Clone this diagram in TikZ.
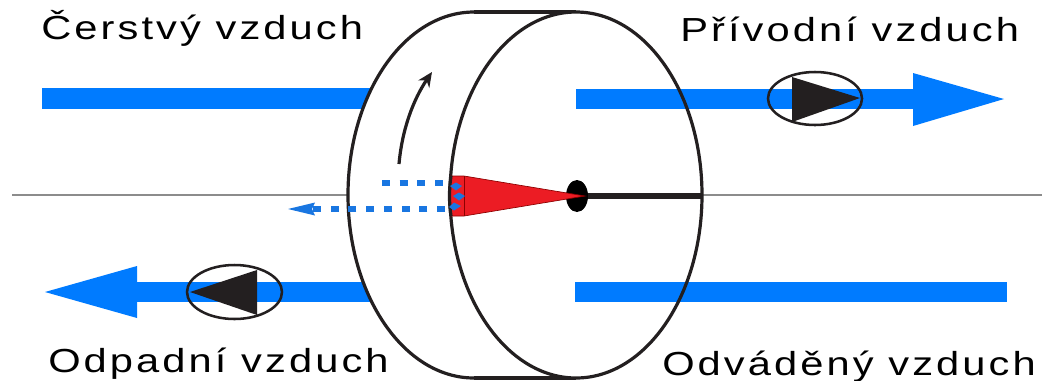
\documentclass[tikz,border=0pt]{standalone}
\usepackage{fontspec}
\setmainfont{Liberation Sans}[LetterSpace=7.4]
\usetikzlibrary{arrows.meta}
\definecolor{flow}{RGB}{0,123,255}
\definecolor{dashflow}{RGB}{25,118,225}
\definecolor{redw}{RGB}{236,28,36}
\definecolor{ink}{RGB}{35,31,32}
\definecolor{axisgrey}{RGB}{140,140,140}
\newcommand{\widelabel}[1]{\scalebox{1.25}[1]{#1}}
\tikzset{
  lab/.style={anchor=base west,inner sep=0pt,font=\fontsize{25pt}{25pt}\selectfont,text=black},
  pipe/.style={fill=flow,draw=none},
  rim/.style={draw=ink,line width=2.4pt},
  pumpring/.style={draw=ink,line width=1.9pt},
  pumptri/.style={fill=ink,draw=none},
  dashline/.style={draw=dashflow,line width=4.2pt,dash pattern=on 6pt off 7.3pt},
  spot/.style={fill=dashflow,draw=none},
}
\begin{document}
\begin{tikzpicture}[x=0.75pt,y=-0.75pt]
\useasboundingbox (0,0) rectangle (1042,380);
\fill[white] (0,0) rectangle (1042,380);
% axis
\coordinate (axL) at (12,195);
\coordinate (axR) at (1042,195);
\draw[axisgrey,line width=2.2pt] (axL) -- (axR);
% bars behind drum
\fill[pipe] (42,88) rectangle (400,109);
\fill[pipe] (137,282) rectangle (400,302);
\fill[pipe] (137,266) -- (45,292) -- (137,318) -- cycle;
% drum
\fill[white] (474,12) -- (576,12) -- (576,378) -- (474,378) -- cycle;
\fill[white] (474,195) ellipse [x radius=126,y radius=183];
\draw[rim] (474,12) arc [start angle=-90,end angle=-270,x radius=126,y radius=183];
\draw[rim] (474,12) -- (576,12);
\draw[rim] (474,378) -- (576,378);
\fill[white] (576,195) ellipse [x radius=126,y radius=183];
% right-hand bars
\fill[pipe] (576,89) rectangle (914,109);
\fill[pipe] (913,73) -- (1004,99) -- (913,126) -- cycle;
\fill[pipe] (575,282) rectangle (1007,302);
\draw[rim] (576,195) ellipse [x radius=126,y radius=183];
% shaft and red wedge
\draw[ink,line width=4.5pt] (580,195.5) -- (702,195.5);
\fill[black] (577,196) ellipse [x radius=11,y radius=16];
\fill[redw,draw=red!55!black,line width=.5pt] (451,176) -- (464,176) -- (585,196) -- (464,216) -- (451,216) .. controls (449,203) and (449,189) .. (451,176) -- cycle;
\draw[red!55!black,line width=.6pt] (464,176) -- (464,216);
\draw[rim] (451,176) .. controls (449,189) and (449,203) .. (451,216);
% dashed flows
\coordinate (dA) at (382,183);
\coordinate (dB) at (447,183);
\coordinate (dC) at (445,209);
\coordinate (dD) at (312,209);
\draw[dashline] (dA) -- (dB);
\draw[dashline] (dC) -- (dD);
\fill[spot] (288,209) -- (315,202.5) -- (312,209) -- (315,215.5) -- cycle;
\fill[spot] (450,186) -- (456,182.5) -- (462,186) -- (456,190.5) -- cycle;
\fill[spot] (453,196) -- (459,192.5) -- (465,196) -- (459,200.5) -- cycle;
\fill[spot] (449,207) -- (454,202.5) -- (461,206) -- (454,210.5) -- cycle;
% rotation arrow
\coordinate (rotA) at (399,164);
\coordinate (rotB) at (432,72);
\draw[ink,line width=2.4pt,-{Stealth[length=11pt,width=10pt]}] (rotA) .. controls (402,130) and (413,100) .. (rotB);
% pumps
\fill[pumptri] (792,77) -- (860,98) -- (792,122) -- cycle;
\draw[pumpring] (815,98.5) ellipse [x radius=47,y radius=26.5];
\fill[pumptri] (257,270) -- (190,292) -- (257,315) -- cycle;
\draw[pumpring] (234.5,292) ellipse [x radius=47.5,y radius=27];
% labels
\node[lab] (t1) at (41,39) {\widelabel{Čerstvý vzduch}};
\node[lab] (t2) at (680,41) {\widelabel{Přívodní vzduch}};
\node[lab] (t3) at (48,372) {\widelabel{Odpadní vzduch}};
\node[lab] (t4) at (662,375) {\widelabel{Odváděný vzduch}};
\end{tikzpicture}
\end{document}
